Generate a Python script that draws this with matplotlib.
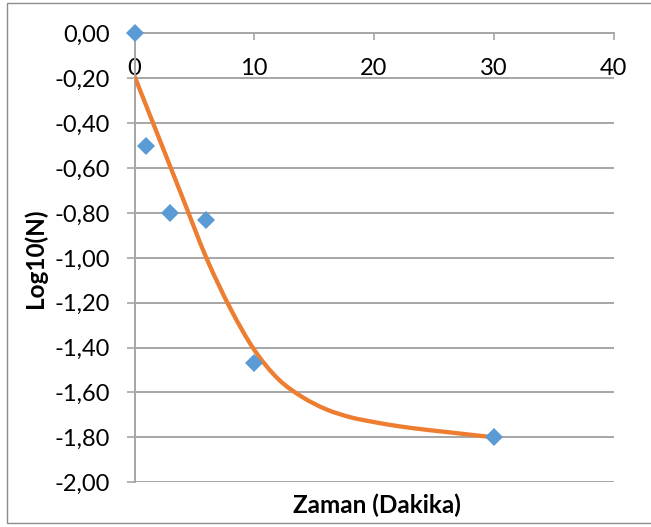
import numpy as np
import matplotlib
matplotlib.use("Agg")
import matplotlib.pyplot as plt
from matplotlib.path import Path
from matplotlib.patches import PathPatch, Rectangle
from matplotlib.ticker import FuncFormatter

# measured survival, log10(N) against time in minutes
time_min = [0, 1, 3, 6, 10, 30]
log_n = [0.00, -0.50, -0.80, -0.83, -1.47, -1.80]

# fitted curve, read every two minutes along its length
fit_time = [0, 2, 4, 6, 8, 10, 12, 14, 16, 18, 20, 22, 24, 26, 28, 30]
fit_log_n = [-0.19, -0.46, -0.73, -1.00, -1.225, -1.41, -1.54, -1.62,
             -1.675, -1.71, -1.732, -1.75, -1.764, -1.776, -1.788, -1.80]

x_ticks = [0, 10, 20, 30, 40]
y_ticks = [0.0, -0.2, -0.4, -0.6, -0.8, -1.0, -1.2, -1.4, -1.6, -1.8, -2.0]

blue = "#5B9BD5"
orange = "#ED7D31"
grid_gray = "#A6A6A6"

plt.rcParams["font.family"] = ["Lato", "DejaVu Sans"]


def smooth_path(xs, ys):
    # spreadsheet-style smoothed line: Catmull-Rom segments as cubic Beziers
    pts = np.column_stack([xs, ys]).astype(float)
    n = len(pts)
    verts = [pts[0]]
    codes = [Path.MOVETO]
    for i in range(n - 1):
        p0 = pts[max(i - 1, 0)]
        p1 = pts[i]
        p2 = pts[i + 1]
        p3 = pts[min(i + 2, n - 1)]
        verts += [p1 + (p2 - p0) / 6.0, p2 - (p3 - p1) / 6.0, p2]
        codes += [Path.CURVE4] * 3
    return Path(verts, codes)


fig = plt.figure(figsize=(6.51, 5.27), dpi=100)
ax = fig.add_axes([134.5 / 651, 1 - 482.2 / 527, 479 / 651, 448.7 / 527])

ax.set_xlim(0, 40)
ax.set_ylim(-2.0, 0.0)

curve = PathPatch(smooth_path(fit_time, fit_log_n), fill=False,
                  edgecolor=orange, linewidth=3.1, capstyle="butt", zorder=3)
ax.add_patch(curve)

ax.plot(time_min, log_n, linestyle="none", marker="D", markersize=9.2,
        markerfacecolor=blue, markeredgewidth=0, clip_on=False, zorder=4)

# x axis crosses at y = 0, which is the top of the plot
for side in ["top", "right"]:
    ax.spines[side].set_visible(False)
ax.spines["bottom"].set_position(("data", 0))
ax.spines["bottom"].set_color(grid_gray)
ax.spines["left"].set_color(grid_gray)
ax.spines["bottom"].set_linewidth(1.4)
ax.spines["left"].set_linewidth(1.4)

ax.set_xticks(x_ticks)
ax.set_yticks(y_ticks)
ax.yaxis.set_major_formatter(FuncFormatter(lambda v, p: f"{v:.2f}".replace(".", ",")))
ax.tick_params(axis="x", direction="out", length=5, width=1.2, color=grid_gray,
               pad=12.5, labelsize=17, labelcolor="black")
ax.tick_params(axis="y", direction="out", length=5.8, width=1.2, color=grid_gray,
               pad=12, labelsize=17, labelcolor="black")

ax.yaxis.grid(True, color=grid_gray, linewidth=1.4)
ax.set_axisbelow(True)

ax.set_ylabel("Log10(N)", fontsize=17.5, fontweight="bold", va="center")
ax.yaxis.set_label_coords(-0.208, 0.5)
ax.set_xlabel("Zaman (Dakika)", fontsize=17.5, fontweight="bold", va="center")
ax.xaxis.set_label_coords(0.506, -0.051)

# chart area border
fig.patches.append(Rectangle((7 / 651, 1 - 523 / 527), 660 / 651, 520 / 527,
                             transform=fig.transFigure, fill=False,
                             edgecolor="#8C8C8C", linewidth=1.0))

fig.savefig("out.png", dpi=100)
